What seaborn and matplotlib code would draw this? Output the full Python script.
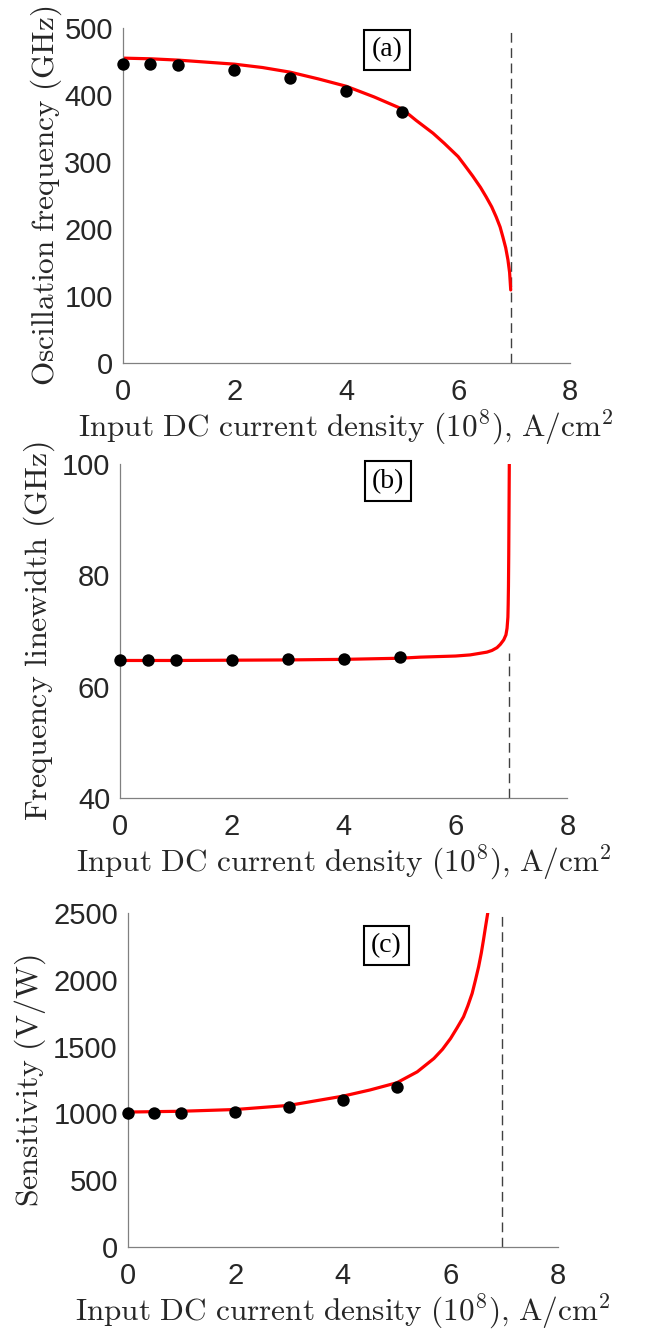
import numpy as np
import pandas as pd
import seaborn as sns
import matplotlib.pyplot as plt

# measured points (current density in 1e8 A/cm^2)
j_meas = [0, 0.5, 1, 2, 3, 4, 5]
freq_meas = [446, 446, 444, 437, 426, 406, 374]
width_meas = [64.8, 64.8, 64.8, 64.8, 64.9, 65.0, 65.3]
sens_meas = [1000, 1000, 1000, 1010, 1045, 1100, 1200]

# theory curves
j_freq = [0, 0.5, 1, 1.5, 2, 2.5, 3, 3.5, 4, 4.5, 5, 5.25, 5.55, 5.75, 6.0, 6.1, 6.26,
          6.4, 6.5, 6.6, 6.68, 6.75, 6.8, 6.85, 6.89, 6.92, 6.94]
freq_fit = [455, 454, 452, 449, 446, 441, 434, 424, 413, 397, 379, 362, 343, 328, 308, 297, 279,
            262, 248, 233, 218, 203, 188, 172, 154, 135, 109]

j_width = [0, 1, 2, 3, 4, 5, 5.37, 6.0, 6.26, 6.56, 6.65, 6.74, 6.80, 6.86, 6.90, 6.92,
           6.935, 6.94, 6.945, 6.95, 6.96]
width_fit = [64.7, 64.7, 64.75, 64.8, 64.9, 65.1, 65.3, 65.5, 65.7, 66.2, 66.5, 67.0, 67.6, 68.4,
             69.3, 70.5, 72.5, 74.7, 78.0, 83.7, 100]

j_sens = [0, 1, 2, 3, 4, 4.5, 5, 5.38, 5.69, 5.85, 6.0, 6.12, 6.24, 6.32, 6.40, 6.46, 6.52,
          6.57, 6.61, 6.65, 6.69]
sens_fit = [1010, 1016, 1029, 1060, 1129, 1175, 1229, 1311, 1411, 1480, 1561, 1640, 1723, 1805,
            1898, 1995, 2097, 2200, 2297, 2400, 2500]

j_crit = 6.95

sns.set_theme(style="white")
plt.rcParams["font.family"] = ["Liberation Sans", "DejaVu Sans"]
plt.rcParams["mathtext.fontset"] = "cm"

fig = plt.figure(figsize=(6.51, 13.32), dpi=100)

panels = [
    dict(rect=[0.1882, 0.7275, 0.6874, 0.2515], jf=j_freq, yf=freq_fit, ym=freq_meas,
         ylim=(0, 500), yticks=[0, 100, 200, 300, 400, 500],
         ylabel=r"$\mathrm{Oscillation\ frequency\ (GHz)}$", ysize=22.5, ylx=-0.13,
         tag="(a)", tagpos=(4.73, 467), dash=(0, 500)),
    dict(rect=[0.1843, 0.4009, 0.6874, 0.2508], jf=j_width, yf=width_fit, ym=width_meas,
         ylim=(40, 100), yticks=[40, 60, 80, 100],
         ylabel=r"$\mathrm{Frequency\ linewidth\ (GHz)}$", ysize=23, ylx=-0.141,
         tag="(b)", tagpos=(4.79, 96.9), dash=(40, 66)),
    dict(rect=[0.1959, 0.0638, 0.6617, 0.2508], jf=j_sens, yf=sens_fit, ym=sens_meas,
         ylim=(0, 2500), yticks=[0, 500, 1000, 1500, 2000, 2500],
         ylabel=r"$\mathrm{Sensitivity\ (V/W)}$", ysize=23, ylx=-0.185,
         tag="(c)", tagpos=(4.81, 2258), dash=(0, 2500)),
]

for p in panels:
    ax = fig.add_axes(p["rect"])
    ax.vlines(j_crit, p["dash"][0], p["dash"][1], colors="#404040", linewidth=1.0,
              linestyles=(0, (7, 4)), zorder=1)
    fit = pd.DataFrame({"j": p["jf"], "y": p["yf"]})
    sns.lineplot(data=fit, x="j", y="y", ax=ax, color="red", linewidth=2.3,
                 sort=False, estimator=None, zorder=2)
    meas = pd.DataFrame({"j": j_meas, "y": p["ym"]})
    sns.scatterplot(data=meas, x="j", y="y", ax=ax, color="black", s=80,
                    edgecolor="black", linewidth=0, zorder=3, clip_on=False)

    ax.set_xlim(0, 8)
    ax.set_ylim(*p["ylim"])
    ax.set_xticks([0, 2, 4, 6, 8])
    ax.set_yticks(p["yticks"])
    for side in ["top", "right"]:
        ax.spines[side].set_visible(False)
    for side in ["left", "bottom"]:
        ax.spines[side].set_color("#808080")
        ax.spines[side].set_linewidth(0.9)
    ax.tick_params(direction="in", length=3, width=0.8, color="#808080",
                   labelsize=21, labelcolor="#262626")
    ax.tick_params(axis="x", pad=11)
    ax.tick_params(axis="y", pad=7)
    ax.set_xlabel(r"$\mathrm{Input\ DC\ current\ density\ (10^8){,}\ A/cm^2}$",
                  fontsize=22.5, color="#262626", labelpad=1)
    ax.set_ylabel(p["ylabel"], fontsize=p["ysize"], color="#262626")
    ax.yaxis.set_label_coords(p["ylx"], 0.5)
    ax.text(p["tagpos"][0], p["tagpos"][1], p["tag"], family="Liberation Serif",
            fontsize=20, color="black", ha="center", va="center",
            bbox=dict(boxstyle="square,pad=0.26", facecolor="white",
                      edgecolor="black", linewidth=1.5))

fig.savefig("out.png", dpi=100)
